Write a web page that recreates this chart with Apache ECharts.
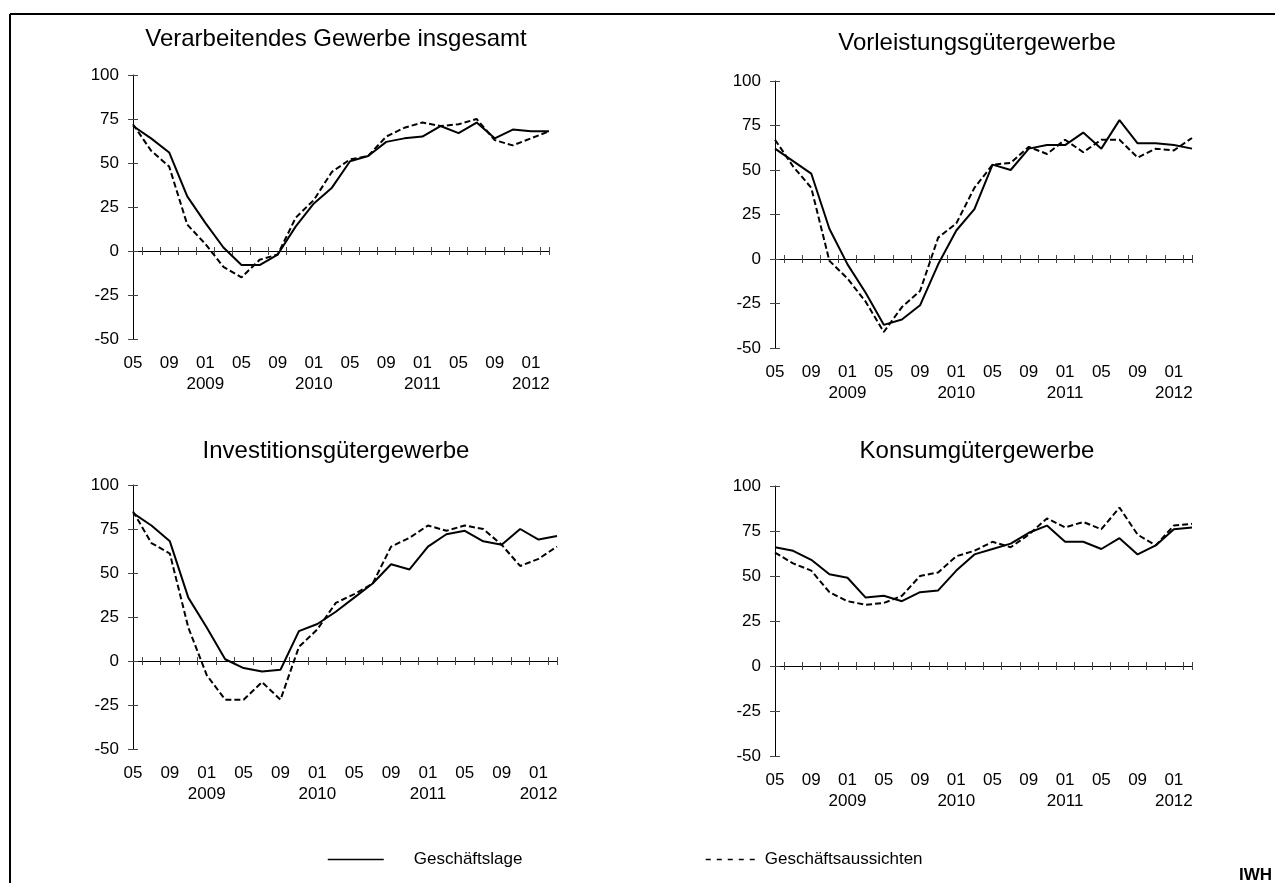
<!DOCTYPE html>
<html>
<head>
<meta charset="utf-8">
<script src="https://cdn.jsdelivr.net/npm/echarts@6/dist/echarts.min.js"></script>
<style>
  html, body { margin: 0; padding: 0; background: #fff; }
  #chart { width: 1275px; height: 883px; }
</style>
</head>
<body>
<div id="chart"></div>
<script>
// bimonthly survey points, 05/2008 .. 03/2012 (24 points)
const startYear = 2008;
const startMonth = 5;
const monthCount = 47;

const panelTitles = [
  'Verarbeitendes Gewerbe insgesamt',
  'Vorleistungsgütergewerbe',
  'Investitionsgütergewerbe',
  'Konsumgütergewerbe'
];
const seriesNames = ['Geschäftslage', 'Geschäftsaussichten'];
const yTicks = [-50, -25, 0, 25, 50, 75, 100];

const lageGesamt = [71, 64, 56, 31, 16, 2, -8, -8, -2, 14, 27, 36, 51, 54, 62, 64, 65, 71, 67, 73, 64, 69, 68, 68];
const aussichtGesamt = [72, 57, 48, 15, 4, -9, -15, -5, -2, 19, 29, 45, 52, 54, 65, 70, 73, 71, 72, 75, 63, 60, 64, 68];

const lageVorleistung = [62, 55, 48, 17, -3, -19, -37, -34, -26, -3, 16, 28, 53, 50, 62, 64, 64, 71, 62, 78, 65, 65, 64, 62];
const aussichtVorleistung = [67, 52, 40, -1, -11, -24, -41, -27, -18, 12, 20, 40, 53, 54, 63, 59, 67, 60, 67, 67, 57, 62, 61, 68];

const lageInvestition = [84, 77, 68, 36, 19, 1, -4, -6, -5, 17, 21, 28, 36, 44, 55, 52, 65, 72, 74, 68, 66, 75, 69, 71];
const aussichtInvestition = [85, 67, 61, 19, -8, -22, -22, -12, -22, 8, 18, 33, 38, 44, 65, 70, 77, 74, 77, 75, 66, 54, 58, 65];

const lageKonsum = [66, 64, 59, 51, 49, 38, 39, 36, 41, 42, 53, 62, 65, 68, 74, 78, 69, 69, 65, 71, 62, 67, 76, 77];
const aussichtKonsum = [63, 57, 53, 41, 36, 34, 35, 39, 50, 52, 61, 64, 69, 66, 73, 82, 77, 80, 76, 88, 73, 67, 78, 79];

const panelData = [
  [lageGesamt, aussichtGesamt],
  [lageVorleistung, aussichtVorleistung],
  [lageInvestition, aussichtInvestition],
  [lageKonsum, aussichtKonsum]
];

const grids = [
  { left: 133, top: 75, width: 416, height: 264 },
  { left: 775, top: 81, width: 417, height: 267 },
  { left: 133, top: 485, width: 424, height: 264 },
  { left: 775, top: 486, width: 417, height: 270 }
];
const titleCenters = [331, 972, 331, 972];
const titleTops = [22, 26, 434, 434];

const font = 'Liberation Sans, Arial, sans-serif';

const months = [];
for (let i = 0; i < monthCount; i++) {
  const m = (startMonth - 1 + i) % 12 + 1;
  const y = startYear + Math.floor((startMonth - 1 + i) / 12);
  months.push(y + '-' + (m < 10 ? '0' + m : '' + m));
}

// survey points sit on every second month; the gaps are bridged
function toMonthly(values) {
  const out = new Array(monthCount).fill(null);
  values.forEach((v, i) => { out[i * 2] = v; });
  return out;
}

const tickAt = (idx) => idx % 2 === 1 || idx === monthCount - 1;

const xAxes = [];
const yAxes = [];
const series = [];
const titles = [];

grids.forEach((g, gi) => {
  titles.push({
    text: panelTitles[gi],
    left: titleCenters[gi],
    top: titleTops[gi],
    textAlign: 'center',
    textStyle: { fontFamily: font, fontSize: 24, fontWeight: 'normal', color: '#000' }
  });
  // labels at the bottom
  xAxes.push({
    type: 'category', gridIndex: gi, data: months, boundaryGap: false, position: 'bottom',
    axisLine: { show: false, onZero: false },
    axisTick: { show: false },
    axisLabel: {
      interval: 3, margin: 14, lineHeight: 21, color: '#000', fontFamily: font, fontSize: 17,
      formatter: (val) => {
        const parts = val.split('-');
        return parts[1] === '01' ? parts[1] + '\n' + parts[0] : parts[1];
      }
    }
  });
  // zero line with ticks below
  xAxes.push({
    type: 'category', gridIndex: gi, data: months, boundaryGap: false, position: 'bottom',
    axisLine: { show: true, onZero: true, onZeroAxisIndex: gi * 2, lineStyle: { color: '#000', width: 1 } },
    axisTick: { show: true, interval: tickAt, length: 4, lineStyle: { color: '#444' } },
    axisLabel: { show: false }
  });
  // ticks above the zero line
  xAxes.push({
    type: 'category', gridIndex: gi, data: months, boundaryGap: false, position: 'bottom',
    axisLine: { show: false, onZero: true, onZeroAxisIndex: gi * 2 },
    axisTick: { show: true, inside: true, interval: tickAt, length: 4, lineStyle: { color: '#444' } },
    axisLabel: { show: false }
  });
  yAxes.push({
    type: 'value', gridIndex: gi, position: 'left',
    min: yTicks[0], max: yTicks[yTicks.length - 1], interval: 25,
    axisLine: { show: true, lineStyle: { color: '#000', width: 1 } },
    axisTick: { show: true, length: 5, lineStyle: { color: '#444' } },
    splitLine: { show: false },
    axisLabel: { margin: 14, color: '#000', fontFamily: font, fontSize: 17 }
  });
  yAxes.push({
    type: 'value', gridIndex: gi, position: 'left',
    min: yTicks[0], max: yTicks[yTicks.length - 1], interval: 25,
    axisLine: { show: false },
    axisTick: { show: true, inside: true, length: 5, lineStyle: { color: '#444' } },
    splitLine: { show: false },
    axisLabel: { show: false }
  });
  panelData[gi].forEach((values, si) => {
    series.push({
      name: seriesNames[si],
      type: 'line',
      xAxisIndex: gi * 3,
      yAxisIndex: gi * 2,
      data: toMonthly(values),
      connectNulls: true,
      symbol: 'none',
      z: si === 0 ? 3 : 2,
      itemStyle: { color: '#000' },
      lineStyle: { color: '#000', width: 2, type: si === 0 ? 'solid' : [6, 3] }
    });
  });
});

const noMarker = { color: 'transparent', borderWidth: 0, opacity: 0 };

const chart = echarts.init(document.getElementById('chart'));
chart.setOption({
  animation: false,
  backgroundColor: '#fff',
  title: titles,
  grid: grids,
  xAxis: xAxes,
  yAxis: yAxes,
  legend: [
    {
      left: 322, top: 846, itemWidth: 56, itemHeight: 14, selectedMode: false,
      data: [{ name: seriesNames[0], itemStyle: noMarker, lineStyle: { type: 'solid', width: 1.5, color: '#000' } }],
      textStyle: { fontFamily: font, fontSize: 17, color: '#000', padding: [0, 0, 0, 25] }
    },
    {
      left: 700, top: 846, itemWidth: 52, itemHeight: 14, selectedMode: false,
      data: [{ name: seriesNames[1], itemStyle: noMarker, lineStyle: { type: [5, 6], width: 1.5, color: '#000' } }],
      textStyle: { fontFamily: font, fontSize: 17, color: '#000', padding: [0, 0, 0, 2] }
    }
  ],
  graphic: [
    { type: 'line', shape: { x1: 10, y1: 14, x2: 1275, y2: 14 }, style: { stroke: '#000', lineWidth: 2 } },
    { type: 'line', shape: { x1: 10, y1: 14, x2: 10, y2: 883 }, style: { stroke: '#000', lineWidth: 2 } },
    { type: 'text', left: 1239, top: 867, style: { text: 'IWH', font: 'bold 17px ' + font, fill: '#000' } }
  ],
  series: series
});
</script>
</body>
</html>
